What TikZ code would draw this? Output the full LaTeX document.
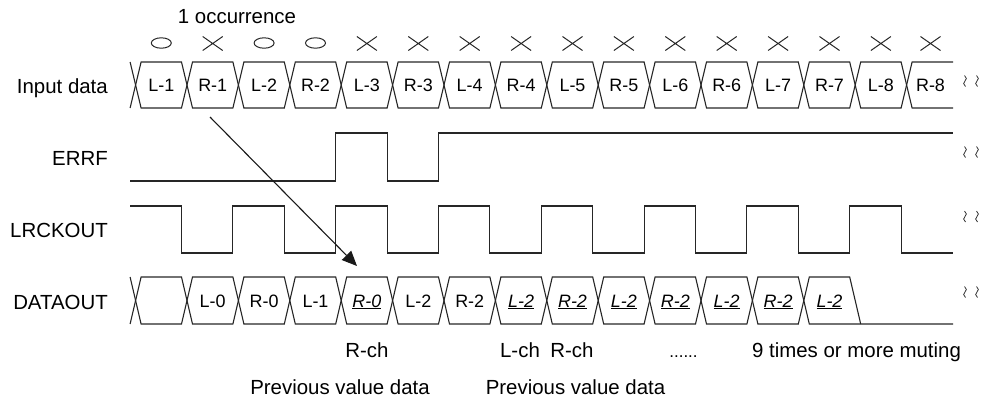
\documentclass[tikz,border=0pt]{standalone}
\usepackage{fontspec}
\setmainfont{Liberation Sans}
\usetikzlibrary{arrows.meta}
\newcommand\uit[1]{\underline{\textit{#1}}}
\begin{document}
\begin{tikzpicture}[x=1bp,y=-1bp,
  sig/.style={draw=black!85, line width=1.1bp, line join=miter},
  lbl/.style={anchor=base east, font=\fontsize{20.5}{24}\selectfont, inner sep=0pt},
  cell/.style={anchor=base, font=\fontsize{18}{21}\selectfont, inner sep=0pt},
  note/.style={anchor=base, font=\fontsize{20.5}{24}\selectfont, inner sep=0pt},
  omark/.style={draw=black!85, line width=1bp},
  wave/.style={draw=black!80, line width=0.8bp}]
\useasboundingbox (0,0) rectangle (982,401);

% signal names
\node[lbl] (nin)  at (108,93)  {Input data};
\node[lbl] (nerr) at (108,165) {ERRF};
\node[lbl] (nlr)  at (108,237) {LRCKOUT};
\node[lbl] (ndo)  at (108,309) {DATAOUT};

% header
\node[note] (occ) at (237,23) {1 occurrence};

% input data cells
\draw[sig] (130.1,62) -- (135.6,85) -- (130.1,108);
\foreach \k/\t in {0/L-1,1/R-1,2/L-2,3/R-2,4/L-3,5/R-3,6/L-4,7/R-4,8/L-5,9/R-5,10/L-6,11/R-6,12/L-7,13/R-7,14/L-8}{
  \pgfmathsetmacro\a{135.6+51.4*\k}
  \pgfmathsetmacro\b{\a+51.4}
  \draw[sig] (\a,85) -- (\a+5.5,62) -- (\b-5.5,62) -- (\b,85) -- (\b-5.5,108) -- (\a+5.5,108) -- cycle;
  \node[cell] (in\k) at ({(\a+\b)/2},91.5) {\t};
}
\draw[sig] (953,62) -- (912.1,62) -- (906.6,85) -- (912.1,108) -- (953,108);
\node[cell] (in15) at (930.5,91.5) {R-8};

% occurrence marks
\foreach \k in {0,2,3}{
  \pgfmathsetmacro\m{135.6+51.4*\k+25.7}
  \draw[omark] (\m,43) ellipse [x radius=10, y radius=5.2];
}
\foreach \k in {1,4,5,6,7,8,9,10,11,12,13,14}{
  \pgfmathsetmacro\m{135.6+51.4*\k+25.7}
  \draw[omark] (\m-10,36.5) -- (\m+10,50.5) (\m-10,50.5) -- (\m+10,36.5);
}
\draw[omark] (920.5,36.5) -- (940.5,50.5) (920.5,50.5) -- (940.5,36.5);

% ERRF
\draw[sig] (130.1,181) -- (335.7,181) -- (335.7,133) -- (387.1,133) -- (387.1,181)
  -- (438.5,181) -- (438.5,133) -- (953,133);

% LRCKOUT
\draw[sig] (130.1,206)
  \foreach \k in {1,3,5,7,9,11,13}{
    -- ({135.6+51.4*\k-5.5},206) -- ({135.6+51.4*\k-5.5},253)
    -- ({135.6+51.4*(\k+1)-5.5},253) -- ({135.6+51.4*(\k+1)-5.5},206)
  }
  -- (901.1,206) -- (901.1,253) -- (953,253);

% DATAOUT cells
\draw[sig] (130.1,277) -- (135.6,300.5) -- (130.1,324);
\foreach \k/\t in {0/{},1/L-0,2/R-0,3/L-1,4/\uit{R-0},5/L-2,6/R-2,7/\uit{L-2},8/\uit{R-2},9/\uit{L-2},10/\uit{R-2},11/\uit{L-2},12/\uit{R-2}}{
  \pgfmathsetmacro\a{135.6+51.4*\k}
  \pgfmathsetmacro\b{\a+51.4}
  \draw[sig] (\a,300.5) -- (\a+5.5,277) -- (\b-5.5,277) -- (\b,300.5) -- (\b-5.5,324) -- (\a+5.5,324) -- cycle;
  \node[cell] (do\k) at ({(\a+\b)/2},307) {\t};
}
\draw[sig] (803.8,300.5) -- (809.3,277) -- (849.7,277) -- (860.7,324);
\draw[sig] (803.8,300.5) -- (809.3,324) -- (953,324);
\node[cell] (do13) at (829.5,307) {\uit{L-2}};

% arrow
\coordinate (as) at (210,117);
\coordinate (ae) at (357,266);
\draw[draw=black!90, line width=1.1bp, -{Triangle[length=15bp,width=13bp]}] (as) -- (ae);

% break marks
\foreach \y in {81,152,216.5,292}{
  \foreach \x in {965,977}{
    \draw[wave] (\x-0.5,\y-5.5) .. controls (\x+2,\y-4.2) and (\x+1.8,\y-0.8) .. (\x,\y)
                .. controls (\x-1.8,\y+0.8) and (\x-2,\y+4.2) .. (\x+0.5,\y+5.5);
  }
}

% bottom notes
\node[note] (rch1) at (367,357) {R-ch};
\node[note] (lch)  at (520,357) {L-ch};
\node[note] (rch2) at (572,357) {R-ch};
\node[anchor=base, font=\fontsize{17}{20}\selectfont, inner sep=0pt] (dots) at (683.5,357) {......};
\node[note] (mute) at (856.5,357) {9 times or more muting};
\node[note] (pv1)  at (340,394) {Previous value data};
\node[note] (pv2)  at (575.5,394) {Previous value data};
\end{tikzpicture}
\end{document}
